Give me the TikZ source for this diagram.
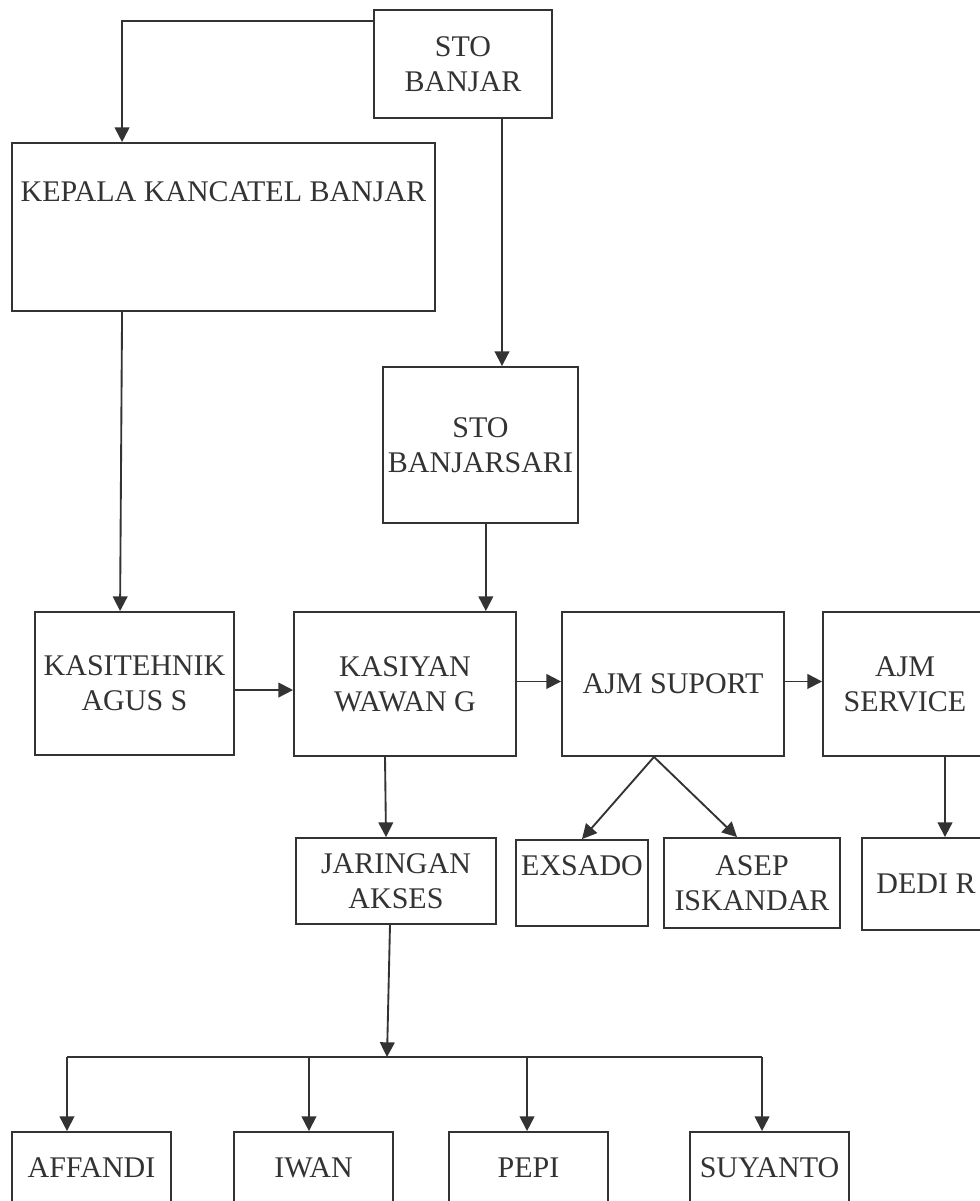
\documentclass[tikz,border=0pt]{standalone}
\usepackage{fontspec}
\setmainfont{Liberation Serif}
\usetikzlibrary{arrows.meta}
\definecolor{ink}{HTML}{333333}

\tikzset{
box/.style={rectangle, draw=ink, line width=1.4pt, text=ink,
align=center, inner sep=2pt, font=\fontsize{22.5}{26.25}\selectfont},
arr/.style={draw=ink, line width=1.4pt, -{Triangle[length=11pt,width=11pt]}},
wire/.style={draw=ink, line width=1.4pt}
}

\begin{document}
\begin{tikzpicture}[x=0.75pt, y=-0.75pt]
% 1 unit = 1px of the 980x1201 sheet, y grows downwards
\useasboundingbox (0, 0) rectangle (980, 1201);
\clip (0, 0) rectangle (980, 1201);
% top part
\draw (463, 64) node[box, minimum width=133.5pt, minimum height=81pt] (sto) {STO\\BANJAR};
\draw (223.5, 227) node[box, minimum width=317.25pt, inner sep=0pt, text height=44pt, text depth=82pt] (kepala) {KEPALA KANCATEL BANJAR};
\draw (480.5, 445) node[box, minimum width=146.25pt, minimum height=117pt] (sari) {STO\\BANJARSARI};
% middle row
\draw (134.5, 683.5) node[box, minimum width=149.25pt, minimum height=107.25pt] (tehnik) {KASITEHNIK\\AGUS S};
\draw (405, 684) node[box, minimum width=166.5pt, minimum height=108pt] (kasiyan) {KASIYAN\\WAWAN G};
\draw (673, 684) node[box, minimum width=166.5pt, minimum height=108pt] (suport) {AJM SUPORT};
\draw (905, 684) node[box, minimum width=123pt, minimum height=108pt] (service) {AJM\\SERVICE};
% third row
\draw (396, 881) node[box, minimum width=150pt, minimum height=64.5pt] (akses) {JARINGAN\\AKSES};
\draw (582, 883) node[box, minimum width=99pt, minimum height=64.5pt] (exsado) {EXSADO\\~};
\draw (752, 883) node[box, minimum width=132pt, minimum height=67.5pt] (asep) {ASEP\\ISKANDAR};
\draw (926, 884) node[box, minimum width=96pt, minimum height=69pt] (dedi) {DEDI R};
% bottom row
\foreach \nm/\cx/\txt in {affandi/91.5/AFFANDI, iwan/313.5/IWAN, pepi/528.5/PEPI, suyanto/769.5/SUYANTO}
	\draw (\cx, 1168) node[box, minimum width=119.25pt, minimum height=54pt] (\nm) {\txt};
% connectors
\draw[arr] ([yshift=-9pt]sto.north west) -| ([xshift=83.25pt]kepala.north west);
\draw[arr] ([xshift=29.25pt]sto.south) -- ([xshift=29.25pt]sto.south |- sari.north);
\draw[arr] ([xshift=83.25pt]kepala.south west) -- ([xshift=64.5pt]tehnik.north west);
\draw[arr] ([xshift=4pt]sari.south) -- ([xshift=4pt]sari.south |- kasiyan.north);
\draw[arr] ([yshift=-4.9pt]tehnik.east) -- ([yshift=-4.9pt]tehnik.east -| kasiyan.west);
\draw[arr] ([yshift=1.9pt]kasiyan.east) -- ([yshift=1.9pt]kasiyan.east -| suport.west);
\draw[arr] ([yshift=1.9pt]suport.east) -- ([yshift=1.9pt]suport.east -| service.west);
\coordinate (split) at ([xshift=-14.25pt]suport.south);
\draw[arr] (split) -- (exsado.north);
\draw[arr] (split) -- ([xshift=-11.25pt]asep.north);
\draw[arr] ([xshift=30pt]service.south) -- ([xshift=30pt]service.south |- dedi.north);
\draw[arr] ([xshift=-15pt]kasiyan.south) -- ([xshift=-7.5pt]akses.north);
\coordinate (bus) at (387, 1057);
\draw[arr] ([xshift=-4.5pt]akses.south) -- (bus);
\draw[wire] ([xshift=-18.4pt]affandi.north |- bus) -- ([xshift=-5.6pt]suyanto.north |- bus);
\foreach \nm/\dx in {affandi/-18.4pt, iwan/-3.4pt, pepi/-1.1pt, suyanto/-5.6pt}
	\draw[arr] ([xshift=\dx]\nm.north |- bus) -- ([xshift=\dx]\nm.north);
\end{tikzpicture}
\end{document}
